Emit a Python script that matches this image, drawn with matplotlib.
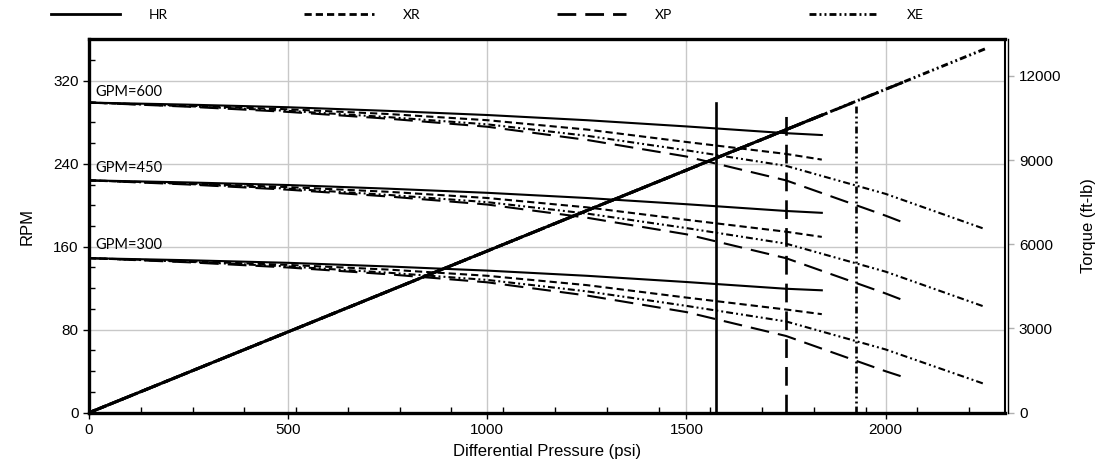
import matplotlib
matplotlib.use("Agg")
import matplotlib.pyplot as plt
from matplotlib.ticker import MultipleLocator

plt.rcParams['font.family'] = ['Liberation Sans', 'DejaVu Sans']
plt.rcParams['lines.scale_dashes'] = False

# Давление (psi) для каждой модели мотора
P_HR = [0, 250, 500, 750, 1000, 1250, 1500, 1750, 1840]
P_XR = [0, 250, 500, 750, 1000, 1250, 1500, 1750, 1840]
P_XP = [0, 250, 500, 750, 1000, 1250, 1500, 1750, 2000, 2044]
P_XE = [0, 250, 500, 750, 1000, 1250, 1500, 1750, 2000, 2250]

# Обороты (RPM) при разных расходах
HR_600 = [299, 297, 294.5, 291, 287, 282, 276, 269.5, 267.7]
HR_450 = [224, 222, 219.5, 216, 212, 207, 201, 194.5, 192.7]
HR_300 = [149, 147, 144.5, 141, 137, 132, 126, 119.5, 118]

XR_600 = [299, 296, 292.5, 288, 282, 273, 261, 249.5, 244]
XR_450 = [224, 221, 217.5, 213, 207, 198, 186, 174.5, 169.5]
XR_300 = [149, 146, 142.5, 138, 132, 123, 111, 99.5, 95]

XP_600 = [299, 295, 290, 283.5, 275.7, 263, 247, 224, 190, 183.5]
XP_450 = [224, 220, 215, 208.5, 200.7, 188, 172, 149, 115, 108.5]
XP_300 = [149, 145, 140, 133.5, 125.7, 113, 97, 74, 40, 34.5]

XE_600 = [299, 295.5, 291, 285, 278, 267, 253, 238, 211, 177]
XE_450 = [224, 220.5, 216, 210, 203, 192, 178, 163, 136, 102]
XE_300 = [149, 145.5, 141, 135, 128, 117, 103, 88, 61, 27.5]

# Момент (ft-lb): начало и конец прямой для каждой модели
TQ_P = {'HR': [0, 1840], 'XR': [0, 1840], 'XP': [0, 2044], 'XE': [0, 2250]}
TQ_V = {'HR': [0, 10600], 'XR': [0, 10600], 'XP': [0, 11770], 'XE': [0, 12960]}

# Вертикальные ограничители: давление и верхняя точка (RPM)
LIM_P = {'HR': 1575, 'XP': 1750, 'XE': 1925}
LIM_TOP = {'HR': 299, 'XP': 289, 'XE': 296.5}

GPM_LABELS = ['GPM=600', 'GPM=450', 'GPM=300']
GPM_LABEL_Y = [309, 236, 162]

styles = {
    'HR': dict(linestyle='-'),
    'XR': dict(dashes=(5.2, 2.9)),
    'XP': dict(dashes=(13.5, 6.5)),
    'XE': dict(dashes=(5.0, 2.2, 1.4, 2.2, 1.4, 2.2)),
}

fig = plt.figure(figsize=(11.05, 4.69), dpi=100)
ax = fig.add_axes([89 / 1105, 1 - 412.7 / 469, (1005 - 89) / 1105, (412.7 - 39.3) / 469])
ax2 = ax.twinx()

curves = {
    'HR': (P_HR, [HR_600, HR_450, HR_300]),
    'XR': (P_XR, [XR_600, XR_450, XR_300]),
    'XP': (P_XP, [XP_600, XP_450, XP_300]),
    'XE': (P_XE, [XE_600, XE_450, XE_300]),
}
for name in ['XE', 'XP', 'XR', 'HR']:
    p, rows = curves[name]
    for r in rows:
        ax.plot(p, r, color='black', lw=1.5, **styles[name])

for name in LIM_P:
    ax.plot([LIM_P[name], LIM_P[name]], [0, LIM_TOP[name]], color='black', lw=1.9, **styles[name])

for name in ['XE', 'XP', 'XR', 'HR']:
    ax2.plot(TQ_P[name], TQ_V[name], color='black', lw=2.1, **styles[name])

for lab, y in zip(GPM_LABELS, GPM_LABEL_Y):
    ax.text(17, y, lab, family=['Lato', 'DejaVu Sans'], fontsize=10.5, va='center', ha='left')

ax.set_xlim(0, 2300)
ax.set_ylim(0, 360)
ax2.set_ylim(0, 13300)
ax.set_xticks([0, 500, 1000, 1500, 2000])
ax.set_yticks([0, 80, 160, 240, 320])
ax2.set_yticks([0, 3000, 6000, 9000, 12000])
ax.xaxis.set_minor_locator(MultipleLocator(130))
ax.yaxis.set_minor_locator(MultipleLocator(20))
ax.grid(True, which='major', color='#c8c8c8', lw=1.0)
ax.set_axisbelow(True)

ax.tick_params(axis='both', which='major', labelsize=11, length=4, width=1, direction='out', color='black')
ax.tick_params(axis='both', which='minor', length=4, width=1, direction='in', color='black')
ax2.tick_params(axis='y', which='major', labelsize=11, length=4, width=1, direction='out', color='#b0b0b0')

for s in ['left', 'bottom', 'top']:
    ax.spines[s].set_linewidth(2.4)
ax.spines['right'].set_linewidth(1.5)
ax2.spines['right'].set_linewidth(1.0)
ax2.spines['right'].set_position(('outward', 2.5))
for s in ['left', 'bottom', 'top']:
    ax2.spines[s].set_visible(False)

ax.set_xlabel('Differential Pressure (psi)', fontsize=12, labelpad=5)
ax.set_ylabel('RPM', fontsize=12, labelpad=13)
ax2.set_ylabel('Torque (ft-lb)', fontsize=12, labelpad=14)

handles = []
for name in ['HR', 'XR', 'XP', 'XE']:
    h, = ax.plot([], [], color='black', lw=2.0, label=name, **styles[name])
    handles.append(h)
fig.legend(handles=handles, loc='center left', bbox_to_anchor=(38 / 1105, 1 - 15 / 469),
           ncol=4, frameon=False, handlelength=5.0, handletextpad=2.1, columnspacing=9.8,
           prop={'family': ['Lato', 'DejaVu Sans'], 'size': 10})

fig.savefig('out.png', dpi=100)
